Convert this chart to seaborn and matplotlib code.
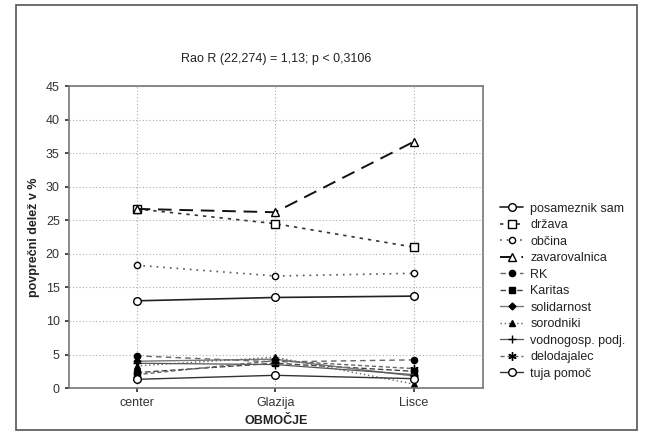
import matplotlib
matplotlib.use("Agg")
import matplotlib.pyplot as plt
from matplotlib.patches import Rectangle
import seaborn as sns
import pandas as pd

sns.set_theme(style="white")
plt.rcParams["font.family"] = ["Liberation Sans", "DejaVu Sans"]

obmocja = ["center", "Glazija", "Lisce"]

posameznik_sam = [13.0, 13.5, 13.7]
drzava = [26.7, 24.5, 21.0]
obcina = [18.3, 16.7, 17.1]
zavarovalnica = [26.7, 26.2, 36.7]
rk = [4.8, 3.9, 4.2]
karitas = [2.3, 3.7, 2.5]
solidarnost = [4.0, 4.3, 1.8]
sorodniki = [3.3, 4.6, 0.6]
vodnogosp_podj = [3.7, 3.5, 2.0]
delodajalec = [2.0, 4.1, 2.9]
tuja_pomoc = [1.3, 1.9, 1.4]

series = [
    ("posameznik sam", posameznik_sam, dict(color="#222222", ls="-", marker="o", mfc="white", ms=5.5, lw=1.2)),
    ("država", drzava, dict(color="#333333", ls=(0, (2, 3)), marker="s", mfc="white", ms=5.5, lw=1.2)),
    ("občina", obcina, dict(color="#555555", ls=(0, (1, 3)), marker="o", mfc="white", ms=4.5, lw=1.2)),
    ("zavarovalnica", zavarovalnica, dict(color="#111111", ls=(0, (7, 4)), marker="^", mfc="white", ms=5.5, lw=1.4)),
    ("RK", rk, dict(color="#666666", ls=(0, (4, 3)), marker="o", mfc="black", ms=4.5, lw=1.0)),
    ("Karitas", karitas, dict(color="#444444", ls=(0, (4, 2)), marker="s", mfc="black", ms=4.5, lw=1.0)),
    ("solidarnost", solidarnost, dict(color="#777777", ls="-", marker="D", mfc="black", ms=3.5, lw=1.0)),
    ("sorodniki", sorodniki, dict(color="#666666", ls=(0, (1, 2)), marker="^", mfc="black", ms=4.5, lw=1.0)),
    ("vodnogosp. podj.", vodnogosp_podj, dict(color="#555555", ls="-", marker="+", mfc="black", ms=6, lw=0.9)),
    ("delodajalec", delodajalec, dict(color="#666666", ls=(0, (3, 2)), marker=(6, 2, 0), mfc="black", ms=6, lw=1.0)),
    ("tuja pomoč", tuja_pomoc, dict(color="#333333", ls="-", marker="o", mfc="white", ms=5.5, lw=1.0)),
]

fig = plt.figure(figsize=(6.49, 4.37), dpi=100)
ax = fig.add_axes([0.106, 0.112, 0.638, 0.691])

for name, vals, st in series:
    df = pd.DataFrame({"obmocje": obmocja, "delez": vals})
    sns.lineplot(data=df, x="obmocje", y="delez", ax=ax, sort=False,
                 color=st["color"], linestyle=st["ls"], linewidth=st["lw"],
                 marker=st["marker"], markersize=st["ms"],
                 markerfacecolor=st["mfc"], markeredgecolor="black",
                 markeredgewidth=1.0, label=name)

ax.set_xlim(-0.49, 2.5)
ax.set_ylim(0, 45)
ax.set_yticks(range(0, 46, 5))
ax.grid(True, color="#aaaaaa", linestyle=(0, (1, 2)), linewidth=0.8)
for sp in ax.spines.values():
    sp.set_color("#777777")
    sp.set_linewidth(1.2)
ax.tick_params(axis="both", labelsize=9, colors="#333333", length=3, left=True, bottom=True)
ax.set_xlabel("OBMOČJE", fontsize=9, fontweight="bold", color="#222222")
ax.set_ylabel("povprečni delež v %", fontsize=9, fontweight="bold", color="#222222")
ax.set_title("Rao R (22,274) = 1,13; p < 0,3106", fontsize=9, color="#222222", pad=17)

leg = ax.legend(loc="upper left", bbox_to_anchor=(1.03, 0.63), frameon=False,
                fontsize=9, handlelength=1.8, handletextpad=0.6,
                labelspacing=0.36, borderaxespad=0)
for t in leg.get_texts():
    t.set_color("#222222")

fig.patches.append(Rectangle((0.024, 0.016), 0.958, 0.973, transform=fig.transFigure,
                             fill=False, edgecolor="#555555", linewidth=1.2))

fig.savefig("out.png", dpi=100)
